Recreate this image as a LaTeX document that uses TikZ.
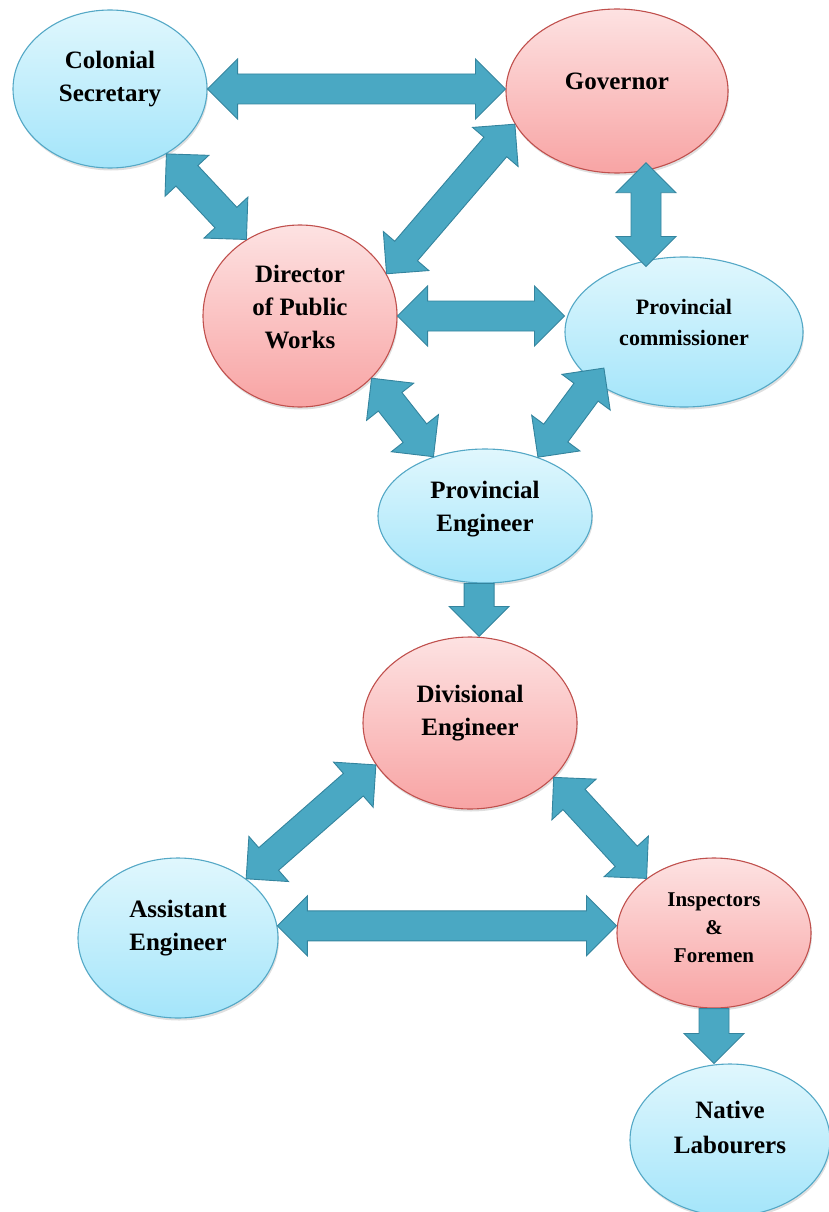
\documentclass[tikz,border=0pt]{standalone}
\usepackage{fontspec}
\setmainfont{Liberation Serif}
\usetikzlibrary{shapes.geometric, calc, shadows}
\definecolor{bluetop}{RGB}{224, 247, 253}
\definecolor{bluebot}{RGB}{164, 229, 250}
\definecolor{blueline}{RGB}{84, 168, 198}
\definecolor{redtop}{RGB}{253, 226, 226}
\definecolor{redbot}{RGB}{248, 164, 164}
\definecolor{redline}{RGB}{192, 80, 77}
\definecolor{arrowfill}{RGB}{74, 168, 195}
\definecolor{arrowline}{RGB}{52, 132, 158}
\newcommand{\headlen}{30pt}
\newcommand{\headhalf}{30pt}
\newcommand{\shafthalf}{15pt}
% double block arrow, tips at #1 and #2
\newcommand{\bothways}[2]{%
  \filldraw[blockarrow] (#1)
    -- ($(#1)!\headlen!(#2)!\headhalf!90:(#2)$)
    -- ($(#1)!\headlen!(#2)!\shafthalf!90:(#2)$)
    -- ($(#2)!\headlen!(#1)!\shafthalf!-90:(#1)$)
    -- ($(#2)!\headlen!(#1)!\headhalf!-90:(#1)$)
    -- (#2)
    -- ($(#2)!\headlen!(#1)!\headhalf!90:(#1)$)
    -- ($(#2)!\headlen!(#1)!\shafthalf!90:(#1)$)
    -- ($(#1)!\headlen!(#2)!\shafthalf!-90:(#2)$)
    -- ($(#1)!\headlen!(#2)!\headhalf!-90:(#2)$)
    -- cycle;}
% single block arrow, tail at #1, tip at #2
\newcommand{\oneway}[2]{%
  \filldraw[blockarrow] ($(#1)!\shafthalf!90:(#2)$)
    -- ($(#2)!\headlen!(#1)!\shafthalf!-90:(#1)$)
    -- ($(#2)!\headlen!(#1)!\headhalf!-90:(#1)$)
    -- (#2)
    -- ($(#2)!\headlen!(#1)!\headhalf!90:(#1)$)
    -- ($(#2)!\headlen!(#1)!\shafthalf!90:(#1)$)
    -- ($(#1)!\shafthalf!-90:(#2)$)
    -- cycle;}

\begin{document}
\begin{tikzpicture}[x=1pt, y=-1pt,
  bubble/.style={ellipse, inner sep=0pt, line width=1.1pt,
    drop shadow={opacity=0.25, shadow xshift=1pt, shadow yshift=-2.5pt}},
  bluebub/.style={bubble, draw=blueline, top color=bluetop, bottom color=bluebot},
  redbub/.style={bubble, draw=redline, top color=redtop, bottom color=redbot},
  lbl/.style={align=center, inner sep=0pt, font=\fontsize{25}{33}\selectfont\bfseries},
  lblsmall/.style={lbl, font=\fontsize{22}{31}\selectfont\bfseries},
  blockarrow/.style={fill=arrowfill, draw=arrowline, line width=0.9pt, line join=miter}]
  \useasboundingbox (0,0) rectangle (829,1212);
  \clip (0,0) rectangle (829,1212);

  % bubbles
  \node[bluebub, minimum width=194pt, minimum height=158pt] (cs) at (110,89) {};
  \node[redbub, minimum width=222pt, minimum height=164pt] (gov) at (617,91) {};
  \node[redbub, minimum width=194pt, minimum height=182pt] (dpw) at (300,316) {};
  \node[bluebub, minimum width=238pt, minimum height=150pt] (pc) at (684,332) {};
  \node[bluebub, minimum width=214pt, minimum height=134pt] (pe) at (485,516) {};
  \node[redbub, minimum width=214pt, minimum height=172pt] (de) at (470,723) {};
  \node[bluebub, minimum width=200pt, minimum height=160pt] (ae) at (178,938) {};
  \node[redbub, minimum width=194pt, minimum height=150pt] (if) at (714,933) {};
  \node[bluebub, minimum width=200pt, minimum height=152pt] (nl) at (730,1140) {};

  % texts
  \node[lbl] (cs-t) at ([yshift=10pt]cs.center) {Colonial\\Secretary};
  \node[lbl] (gov-t) at ([yshift=10pt]gov.center) {Governor};
  \node[lbl] (dpw-t) at ([yshift=9pt]dpw.center) {Director\\of Public\\Works};
  \node[lblsmall] (pc-t) at ([yshift=10pt]pc.center) {Provincial\\commissioner};
  \node[lbl] (pe-t) at ([yshift=7pt]pe.center) {Provincial\\Engineer};
  \node[lbl] (de-t) at ([yshift=10pt]de.center) {Divisional\\Engineer};
  \node[lbl] (ae-t) at ([yshift=10pt]ae.center) {Assistant\\Engineer};
  \node[lblsmall, font=\fontsize{21}{28}\selectfont\bfseries] (if-t) at ([yshift=5pt]if.center) {Inspectors\\\&\\Foremen};
  \node[lbl, font=\fontsize{25}{35}\selectfont\bfseries] (nl-t) at ([yshift=13pt]nl.center) {Native\\Labourers};

  % arrow ends
  \coordinate (cg2) at (gov.west |- cs.east);
  \coordinate (gp1) at ([yshift=8pt]gov.-70);
  \coordinate (gp0) at (gp1 |- pc.north);
  \coordinate (gp2) at ([yshift=-10pt]gp0);
  \coordinate (dp2) at (pc.west |- dpw.east);
  \coordinate (pp1) at ([yshift=20pt]pc.-145);
  \coordinate (pd2) at (pe.-95 |- de.north);
  \coordinate (ai2) at (ae.7 -| if.west);
  \coordinate (in2) at (if.south |- nl.north);

  % arrows
  \bothways{cs.east}{cg2}
  \bothways{cs.-49}{dpw.125}
  \bothways{dpw.26}{gov.198}
  \bothways{gp1}{gp2}
  \bothways{dpw.east}{dp2}
  \bothways{dpw.-41}{pe.131}
  \bothways{pp1}{pe.48}
  \oneway{pe.-95}{pd2}
  \bothways{de.-156}{ae.41}
  \bothways{de.-33}{if.141}
  \bothways{ae.7}{ai2}
  \oneway{if.south}{in2}
\end{tikzpicture}
\end{document}
